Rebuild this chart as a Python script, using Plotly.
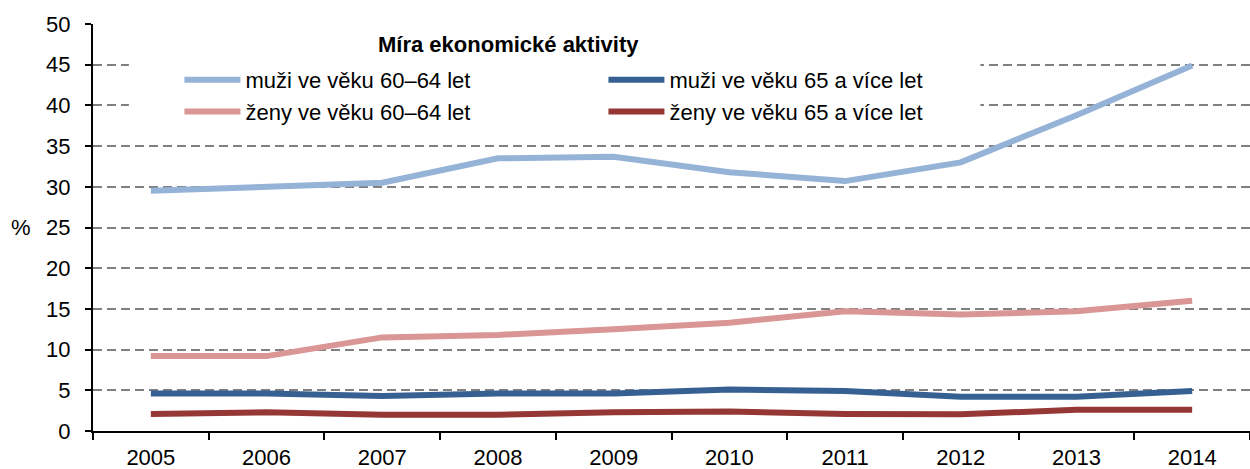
import plotly.graph_objects as go

# data
roky = ['2005', '2006', '2007', '2008', '2009', '2010', '2011', '2012', '2013', '2014']
muzi_60_64 = [29.5, 30.0, 30.5, 33.5, 33.7, 31.8, 30.7, 33.0, 38.8, 44.9]
muzi_65 = [4.6, 4.6, 4.3, 4.6, 4.6, 5.1, 4.9, 4.2, 4.2, 4.9]
zeny_60_64 = [9.2, 9.2, 11.5, 11.8, 12.5, 13.3, 14.7, 14.3, 14.7, 16.0]
zeny_65 = [2.1, 2.3, 2.0, 2.0, 2.3, 2.4, 2.1, 2.05, 2.6, 2.6]

FONT = 'Liberation Sans, Arial, sans-serif'

serie = [
    ('muži ve věku 60–64 let', muzi_60_64, '#95B3D7'),
    ('muži ve věku 65 a více let', muzi_65, '#376092'),
    ('ženy ve věku 60–64 let', zeny_60_64, '#D99694'),
    ('ženy ve věku 65 a více let', zeny_65, '#953735'),
]

fig = go.Figure()
for nazev, hodnoty, barva in serie:
    fig.add_trace(go.Scatter(
        x=roky, y=hodnoty, mode='lines', name=nazev,
        line=dict(color=barva, width=6)
    ))

fig.update_layout(
    width=1250, height=469,
    margin=dict(l=93, r=0, t=24, b=38),
    plot_bgcolor='white', paper_bgcolor='white',
    font=dict(family=FONT, size=22, color='black'),
    showlegend=True,
    legend=dict(
        orientation='h', x=0.0747, y=0.914, xanchor='left', yanchor='top',
        bgcolor='rgba(0,0,0,0)', entrywidth=353, entrywidthmode='pixels',
        font=dict(size=22), itemwidth=56, traceorder='normal'
    ),
    xaxis=dict(
        type='category', range=[-0.5, 9.5], showgrid=False, showline=True,
        linecolor='black', linewidth=2, ticks='outside', tickson='boundaries',
        ticklen=7, tickwidth=2, tickcolor='black', tickfont=dict(size=22),
        ticklabelstandoff=6
    ),
    yaxis=dict(
        range=[0, 50], dtick=5, showgrid=True, gridcolor='#808080',
        griddash='9px,5px', gridwidth=2, showline=True, linecolor='black',
        linewidth=2, ticks='outside', ticklen=6, tickwidth=2, tickcolor='black',
        tickfont=dict(size=22), zeroline=False, ticklabelstandoff=10
    ),
)

# bílé pozadí legendy (zakrývá mřížku, ale ne čáry)
fig.add_shape(
    type='rect', xref='x', yref='y', layer='between',
    x0=-0.19, x1=7.17, y0=35.8, y1=49.4,
    fillcolor='white', line=dict(width=0)
)

fig.add_annotation(
    text='<b>Míra ekonomické aktivity</b>', xref='paper', yref='paper',
    x=0.245, y=0.95, xanchor='left', yanchor='middle', showarrow=False,
    font=dict(size=22)
)
fig.add_annotation(
    text='%', xref='paper', yref='paper', x=-0.073, y=0.5,
    xanchor='left', yanchor='middle', showarrow=False, font=dict(size=22)
)

fig.write_html('out.html', config={'displayModeBar': False},
               post_script="document.body.style.margin='0';")
